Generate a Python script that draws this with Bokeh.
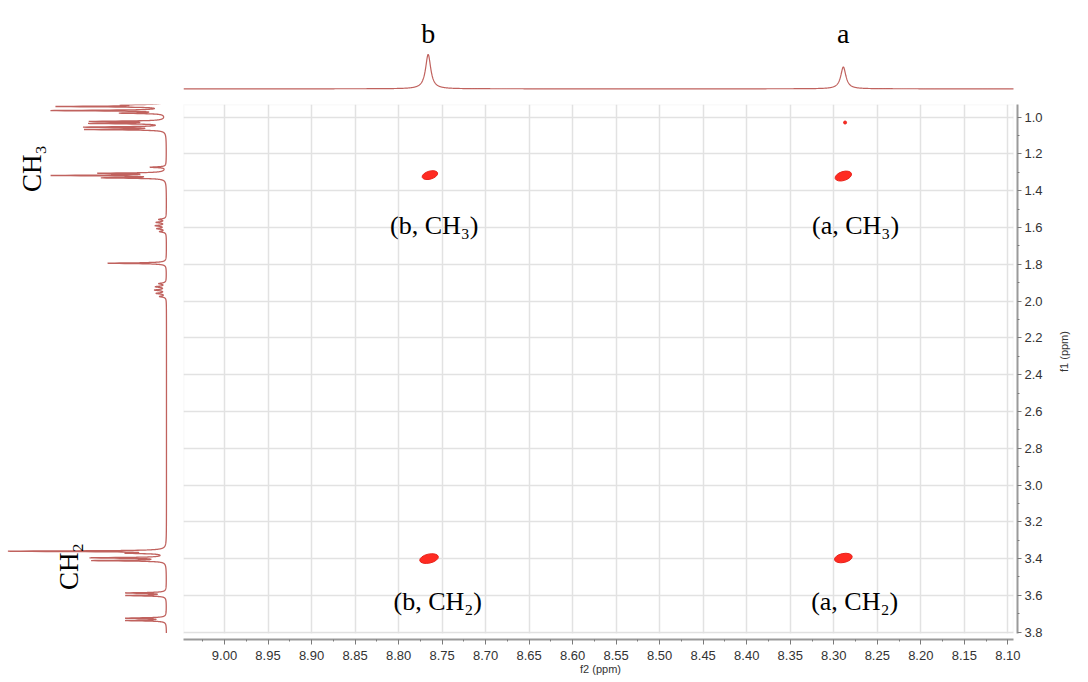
import math
import numpy as np
from bokeh.plotting import figure
from bokeh.layouts import row, column
from bokeh.models import Range1d, Spacer, FixedTicker, BoxAnnotation, PrintfTickFormatter
from bokeh.core.properties import value
from bokeh.embed import file_html
from bokeh.resources import INLINE

# ---------------- data ----------------
# 1H trace along f2 (aromatic protons a, b)
f2_peak_ppm = [8.766, 8.289]
f2_peak_height = [1.00, 0.635]
f2_peak_hwhm = [0.0036, 0.0036]
f2_peak_names = ["b", "a"]

# 1H trace along f1 (aliphatic protons)
f1_peak_ppm = [0.934, 0.942, 0.964, 0.978, 1.023, 1.034, 1.054, 1.067,
               1.272, 1.305, 1.317, 1.330,
               1.556, 1.572, 1.590, 1.606, 1.622,
               1.794,
               1.905, 1.922, 1.940, 1.958, 1.975,
               3.360, 3.371, 3.396, 3.411,
               3.587, 3.601, 3.724, 3.737]
f1_peak_height = [0.228, 0.671, 0.715, 0.272, 0.462, 0.462, 0.500, 0.500,
                  0.100, 0.405, 0.703, 0.386,
                  0.045, 0.060, 0.065, 0.055, 0.040,
                  0.373,
                  0.045, 0.065, 0.070, 0.060, 0.040,
                  0.990, 0.210, 0.468, 0.462,
                  0.253, 0.253, 0.253, 0.253]
f1_peak_hwhm = [0.0025] * 12 + [0.004] * 5 + [0.0025] + [0.004] * 5 + [0.0025] * 8
f1_group_names = ["CH₃", "CH₂"]
f1_group_pos = [1.279, 3.443]
f1_group_level = [0.848, 0.620]

# 2D cross peaks (f2, f1)
cross_f2 = [8.764, 8.289, 8.765, 8.289, 8.287]
cross_f1 = [1.315, 1.320, 3.400, 3.397, 1.029]
cross_w = [16, 17, 19, 18, 3]
cross_h = [8, 9, 9, 9, 3]
cross_angle = [0.28, 0.30, 0.22, 0.20, 0.0]

cross_labels = ["(b, CH₃)", "(a, CH₃)", "(b, CH₂)", "(a, CH₂)"]
cross_label_f2 = [8.759, 8.275, 8.755, 8.276]
cross_label_f1 = [1.590, 1.590, 3.633, 3.633]

# axis ticks
f2_ticks = [9.00, 8.95, 8.90, 8.85, 8.80, 8.75, 8.70, 8.65, 8.60, 8.55,
            8.50, 8.45, 8.40, 8.35, 8.30, 8.25, 8.20, 8.15, 8.10]
f1_ticks = [1.0, 1.2, 1.4, 1.6, 1.8, 2.0, 2.2, 2.4, 2.6, 2.8, 3.0,
            3.2, 3.4, 3.6, 3.8]

# ---------------- geometry ----------------
F2_VIEW = (9.0471, 8.0889)     # plotted f2 window (left -> right)
F1_VIEW = (0.931, 3.840)       # plotted f1 window (top -> bottom)
F2_BOX = (9.0471, 8.0935)      # spectral box inside the frame
F1_BOX = (0.931, 3.807)

TRACE = "#c0625e"
GRID = "#e2e2e2"
AXIS = "#9a9a9a"


def lorentz_sum(axis, centres, heights, hwhm):
    out = np.zeros_like(axis)
    for c, h, w in zip(centres, heights, hwhm):
        out += h / (1.0 + ((axis - c) / w) ** 2)
    return out


xr = Range1d(start=F2_VIEW[0], end=F2_VIEW[1])
yr = Range1d(start=F1_VIEW[1], end=F1_VIEW[0])

# ---------------- main 2D panel ----------------
main = figure(width=905, height=578, x_range=xr, y_range=yr,
              y_axis_location="right", toolbar_location=None,
              output_backend="svg",
              min_border_left=0, min_border_top=0,
              min_border_right=71, min_border_bottom=43)
main.outline_line_color = None
main.background_fill_color = "white"
main.border_fill_color = "white"

f2_minor = [(a + b) / 2 for a, b in zip(f2_ticks[:-1], f2_ticks[1:])] + [9.025]
f1_minor = [(a + b) / 2 for a, b in zip(f1_ticks[:-1], f1_ticks[1:])]

xa = main.xaxis[0]
xa.ticker = FixedTicker(ticks=f2_ticks, minor_ticks=f2_minor)
xa.formatter = PrintfTickFormatter(format="%.2f")
xa.bounds = (F2_BOX[1], F2_BOX[0])
ya = main.yaxis[0]
ya.ticker = FixedTicker(ticks=f1_ticks, minor_ticks=f1_minor)
ya.formatter = PrintfTickFormatter(format="%.1f")
ya.bounds = (F1_BOX[0], F1_BOX[1])

for ax in (xa, ya):
    ax.axis_line_color = AXIS
    ax.axis_line_width = 2
    ax.major_tick_line_color = "#7a7a7a"
    ax.minor_tick_line_color = "#7a7a7a"
    ax.major_tick_in = 0
    ax.minor_tick_in = 0
    ax.major_tick_out = 4
    ax.minor_tick_out = 2
    ax.major_label_text_font = "Liberation Sans"
    ax.major_label_text_font_size = "13px"
    ax.major_label_text_color = "#333333"
    ax.axis_label_text_font = "Liberation Sans"
    ax.axis_label_text_font_size = "11px"
    ax.axis_label_text_font_style = "normal"
    ax.axis_label_text_color = "#333333"

xa.major_tick_out = 5
xa.major_label_standoff = 6
xa.axis_label = "f2 (ppm)"
xa.axis_label_standoff = 0
ya.major_label_standoff = 3
ya.axis_label = "f1 (ppm)"
ya.axis_label_standoff = 18
try:
    ya.axis_label_orientation = math.pi / 2
except Exception:
    pass

main.xgrid.grid_line_color = GRID
main.ygrid.grid_line_color = GRID
main.xgrid.grid_line_width = 1.5
main.ygrid.grid_line_width = 1.5

# blank margin between the spectral box and the axes
main.quad(left=F2_BOX[1], right=F2_VIEW[1], top=F1_VIEW[0], bottom=F1_VIEW[1],
          fill_color="white", line_color=None)
main.quad(left=F2_VIEW[0], right=F2_VIEW[1], top=F1_BOX[1], bottom=F1_VIEW[1],
          fill_color="white", line_color=None)
main.add_layout(BoxAnnotation(left=F2_BOX[0], right=F2_BOX[1], top=F1_BOX[0],
                              bottom=F1_BOX[1], fill_alpha=0, line_color="#dadada",
                              line_width=1.5, level="underlay"))

main.ellipse(x=cross_f2, y=cross_f1, width=cross_w, height=cross_h,
             angle=cross_angle, width_units="screen", height_units="screen",
             fill_color="#ff2b22", line_color="#e8231b", line_width=1)
main.text(x=cross_label_f2, y=cross_label_f1, text=cross_labels,
          text_font=value("Liberation Serif"), text_font_size="26px",
          text_align="center", text_baseline="middle", text_color="black")

# ---------------- top 1D trace ----------------
top = figure(width=905, height=104, x_range=xr, y_range=Range1d(-0.457, 2.573),
             x_axis_type=None, y_axis_type=None, toolbar_location=None,
             output_backend="svg",
             min_border_left=0, min_border_top=0, min_border_bottom=0,
             min_border_right=71)
top.outline_line_color = None
top.grid.visible = False
f2_axis = np.linspace(F2_BOX[0], F2_BOX[1], 3000)
top.line(f2_axis, lorentz_sum(f2_axis, f2_peak_ppm, f2_peak_height, f2_peak_hwhm),
         line_color=TRACE, line_width=1.2)
top.text(x=f2_peak_ppm, y=[1.603, 1.603], text=f2_peak_names,
         text_font=value("Liberation Serif"), text_font_size="28px",
         text_align="center", text_baseline="alphabetic", text_color="black")

# ---------------- left 1D trace ----------------
left = figure(width=183, height=578, x_range=Range1d(1.0505, -0.1077), y_range=yr,
              x_axis_type=None, y_axis_type=None, toolbar_location=None,
              output_backend="svg",
              min_border_left=0, min_border_top=0, min_border_right=0,
              min_border_bottom=43)
left.outline_line_color = None
left.grid.visible = False
f1_axis = np.linspace(0.925, 3.805, 8000)
left.line(lorentz_sum(f1_axis, f1_peak_ppm, f1_peak_height, f1_peak_hwhm), f1_axis,
          line_color=TRACE, line_width=1.3)
left.text(x=f1_group_level, y=f1_group_pos, text=f1_group_names, angle=math.pi / 2,
          text_font=value("Liberation Serif"), text_font_size="27px",
          text_align="center", text_baseline="middle", text_color="black")

layout = column(row(Spacer(width=183, height=104), top), row(left, main))

with open("out.html", "w") as fh:
    fh.write(file_html(layout, INLINE))
